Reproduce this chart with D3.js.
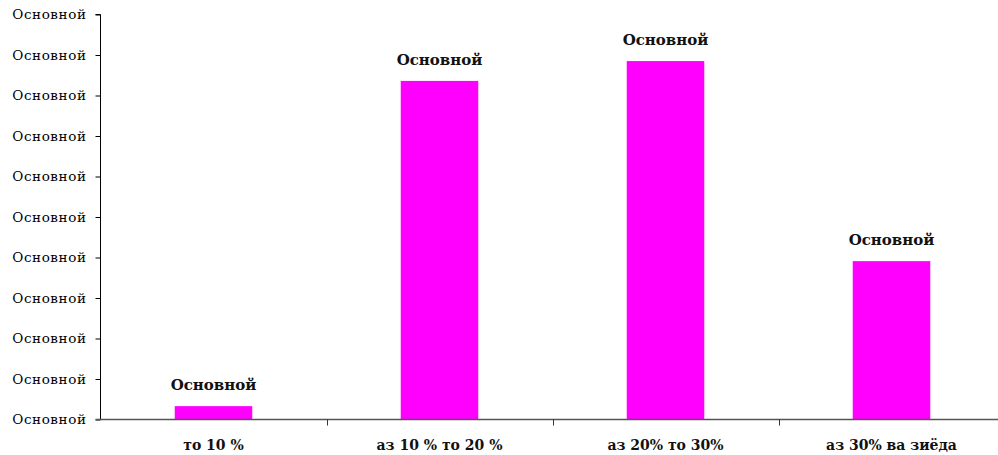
<!DOCTYPE html>
<html><head><meta charset="utf-8">
<script src="https://cdn.jsdelivr.net/npm/d3@7"></script>
<style>
html,body{margin:0;padding:0;background:#fff;}
text{font-family:"DejaVu Serif","Liberation Serif",serif;}
</style></head>
<body><svg id="chart" width="998" height="455"></svg>
<script>
const categories = ["то 10 %", "аз 10 % то 20 %", "аз 20% то 30%", "аз 30% ва зиёда"];
const values = [0.33, 8.36, 8.85, 3.91];
const barLabels = ["Основной", "Основной", "Основной", "Основной"];
const yTickValues = [0,1,2,3,4,5,6,7,8,9,10];
const yTickLabels = ["Основной","Основной","Основной","Основной","Основной","Основной","Основной","Основной","Основной","Основной","Основной"];

const svg = d3.select("#chart");
const plotLeft = 100.5, plotTop = 14.5, plotBottom = 419.5;
const bandW = 226;
const x = d3.scaleBand().domain(categories).range([plotLeft, plotLeft + bandW*categories.length]).paddingInner(0.657).paddingOuter(0.3285);
const y = d3.scaleLinear().domain([0,10]).range([plotBottom, plotTop]);

// bars
svg.selectAll("rect.bar").data(values).enter().append("rect")
  .attr("class","bar")
  .attr("x",(d,i)=>x(categories[i]))
  .attr("width",x.bandwidth())
  .attr("y",d=>y(d))
  .attr("height",d=>y(0)-y(d))
  .attr("fill","#ff00ff");

// y axis
const yAxis = d3.axisLeft(y).tickValues(yTickValues).tickSize(5).tickPadding(9)
  .tickFormat((d,i)=>yTickLabels[i]);
const gy = svg.append("g").attr("transform",`translate(${plotLeft},0)`).call(yAxis);
gy.select(".domain").attr("stroke","#000").attr("d",`M-5,${plotTop}H0V${plotBottom}`);
gy.selectAll(".tick line").attr("stroke","#000");
gy.selectAll(".tick text").attr("font-size",13.5).attr("letter-spacing","0.6px").attr("fill","#000").attr("font-family","DejaVu Serif").attr("dy","0.32em");

// x axis
const gx = svg.append("g").attr("transform",`translate(0,${plotBottom})`);
gx.append("line").attr("x1",plotLeft-5).attr("x2",998).attr("y1",0).attr("y2",0).attr("stroke","#555").attr("stroke-width",1.5);
const bandEdges = categories.map((c,i)=>plotLeft + bandW*i).concat([plotLeft+bandW*categories.length]);
gx.selectAll("line.xt").data(bandEdges.slice(1)).enter().append("line")
  .attr("class","xt").attr("x1",d=>Math.round(d)+0.5).attr("x2",d=>Math.round(d)+0.5).attr("y1",0).attr("y2",6).attr("stroke","#333");
gx.selectAll("text.xl").data(categories).enter().append("text")
  .attr("class","xl")
  .attr("x",d=>x(d)+x.bandwidth()/2)
  .attr("y",30)
  .attr("text-anchor","middle")
  .attr("font-weight","bold")
  .attr("font-size",14)
  .attr("fill","#111")
  .text(d=>d);

// value labels
svg.selectAll("text.vl").data(values).enter().append("text")
  .attr("class","vl")
  .attr("x",(d,i)=>x(categories[i])+x.bandwidth()/2)
  .attr("y",d=>y(d)-16)
  .attr("text-anchor","middle")
  .attr("font-weight","bold")
  .attr("font-size",15)
  .attr("fill","#111")
  .text((d,i)=>barLabels[i]);
</script></body></html>
